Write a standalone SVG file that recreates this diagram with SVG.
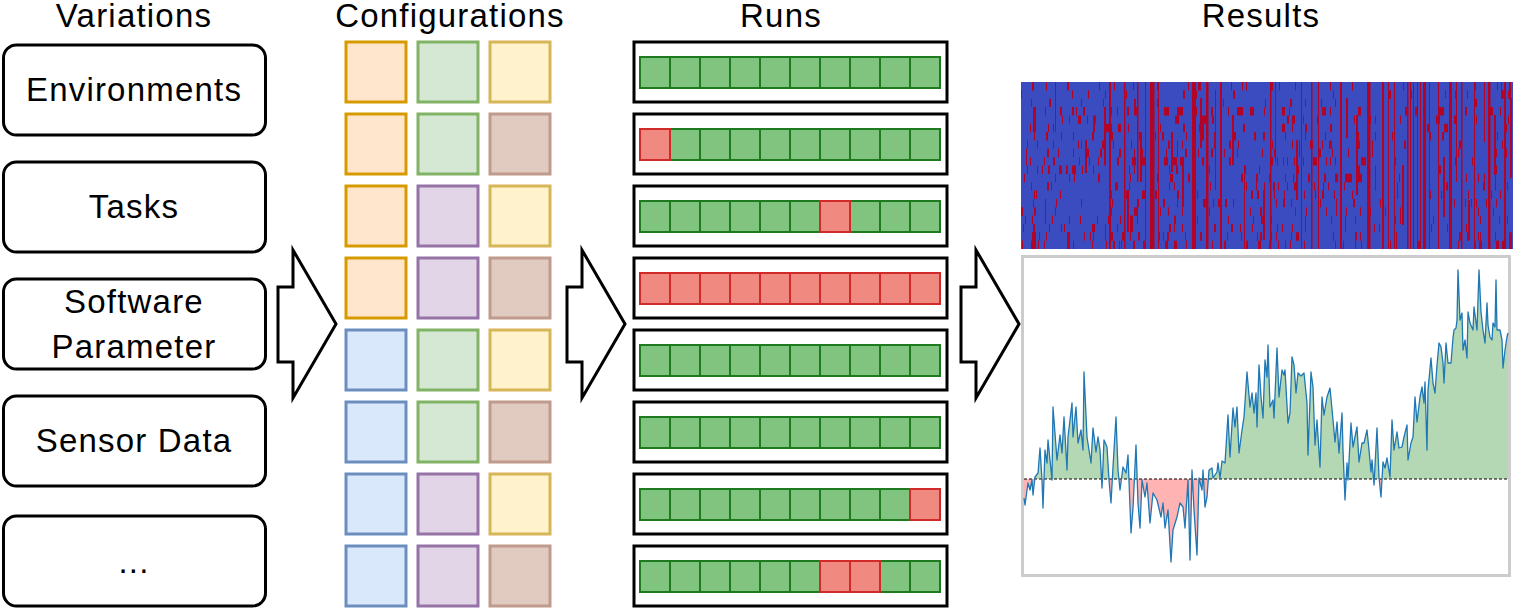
<svg xmlns="http://www.w3.org/2000/svg" width="1517" height="609" viewBox="0 0 1517 609">
<style>
text{font-family:"Liberation Sans",Arial,sans-serif;font-size:33px;letter-spacing:1.2px;fill:#000;text-anchor:middle}
.var{fill:#fff;stroke:#000;stroke-width:3}
.sq{stroke-width:3}
.o{fill:#ffe6cc;stroke:#d79b00}
.g{fill:#d5e8d4;stroke:#82b366}
.y{fill:#fff2cc;stroke:#d6b656}
.b{fill:#e1cbc0;stroke:#c09a8c}
.p{fill:#e1d5e7;stroke:#9673a6}
.bl{fill:#dae8fc;stroke:#6c8ebf}
.run{fill:#fff;stroke:#000;stroke-width:3}
.cg{fill:#80c480;stroke:#1e7a1e;stroke-width:2}
.cr{fill:#f08a80;stroke:#d02a2a;stroke-width:2}
.arr{fill:#fff;stroke:#000;stroke-width:3;stroke-linejoin:miter}
.hm{fill:#b40426}
</style>
<defs>
<g id="cells">
<rect class="cg" x="640" y="0" width="30" height="31"/><rect class="cg" x="670" y="0" width="30" height="31"/><rect class="cg" x="700" y="0" width="30" height="31"/><rect class="cg" x="730" y="0" width="30" height="31"/><rect class="cg" x="760" y="0" width="30" height="31"/><rect class="cg" x="790" y="0" width="30" height="31"/><rect class="cg" x="820" y="0" width="30" height="31"/><rect class="cg" x="850" y="0" width="30" height="31"/><rect class="cg" x="880" y="0" width="30" height="31"/><rect class="cg" x="910" y="0" width="30" height="31"/>
</g>
<clipPath id="above"><rect x="1022" y="256" width="488" height="223"/></clipPath>
<clipPath id="below"><rect x="1022" y="479" width="488" height="97"/></clipPath>
<path id="area" d="M1024,479 L1024,498 1025,505 1028,483 1030,490 1032,480 1033,495 1035,477 1038,473 1040,448 1042,480 1043,508 1045,450 1047,463 1048,440 1052,480 1053,407 1057,460 1060,435 1062,453 1064,417 1067,470 1068,437 1072,403 1073,437 1076,407 1078,443 1081,430 1083,450 1084,372 1087,437 1091,463 1093,428 1096,452 1098,437 1100,450 1102,488 1104,440 1107,447 1109,480 1111,503 1113,467 1116,417 1118,470 1120,490 1123,467 1126,473 1128,455 1131,533 1133,508 1136,445 1138,503 1140,528 1142,480 1145,497 1147,483 1150,523 1153,493 1157,500 1161,517 1163,503 1165,528 1168,510 1171,562 1173,530 1177,517 1180,503 1183,507 1185,528 1188,480 1190,560 1192,470 1194,510 1197,555 1199,478 1202,490 1203,470 1205,507 1207,497 1209,470 1212,468 1213,478 1217,472 1218,463 1220,478 1222,461 1225,463 1228,415 1230,457 1233,408 1235,427 1237,407 1239,453 1242,430 1244,417 1247,372 1250,407 1252,393 1254,413 1256,393 1257,427 1259,365 1261,397 1263,418 1265,360 1267,377 1268,345 1270,407 1273,400 1274,418 1277,348 1279,397 1282,370 1284,375 1285,370 1288,423 1290,413 1292,357 1294,365 1296,393 1298,373 1301,376 1304,373 1307,403 1308,455 1311,372 1313,387 1315,445 1317,420 1320,467 1322,397 1324,415 1327,397 1330,388 1333,420 1335,442 1337,422 1339,453 1342,413 1343,450 1345,500 1347,463 1348,480 1351,423 1353,447 1357,427 1359,462 1362,443 1364,443 1367,430 1369,450 1371,472 1372,460 1374,485 1377,428 1379,477 1381,497 1383,462 1385,468 1387,458 1390,477 1392,420 1394,450 1397,432 1399,448 1402,447 1404,437 1407,425 1408,460 1411,443 1413,437 1415,397 1417,422 1420,397 1422,387 1424,403 1425,382 1427,450 1428,390 1431,358 1433,383 1435,393 1437,365 1439,343 1441,347 1443,363 1444,383 1446,343 1448,363 1451,363 1453,338 1454,330 1456,328 1457,320 1458,270 1460,320 1462,313 1463,350 1465,340 1467,358 1468,312 1470,323 1473,330 1474,307 1477,330 1479,270 1481,312 1483,330 1485,343 1487,303 1488,325 1490,337 1492,340 1493,323 1495,327 1496,280 1497,330 1500,330 1502,340 1503,368 1505,350 1507,337 1508,333 L1508,479 Z"/>
</defs>

<g id="titles">
<text x="134" y="27">Variations</text>
<text x="450" y="27">Configurations</text>
<text x="781" y="27">Runs</text>
<text x="1261" y="27">Results</text>
</g>

<g id="var-environments"><rect class="var" x="3.5" y="45" width="262" height="90" rx="13"/><text x="134" y="101">Environments</text></g>
<g id="var-tasks"><rect class="var" x="3.5" y="162" width="262" height="90" rx="13"/><text x="134" y="218">Tasks</text></g>
<g id="var-software"><rect class="var" x="3.5" y="279" width="262" height="90" rx="13"/><text x="134" y="313">Software</text><text x="134" y="358">Parameter</text></g>
<g id="var-sensor"><rect class="var" x="3.5" y="396" width="262" height="90" rx="13"/><text x="134" y="452">Sensor Data</text></g>
<g id="var-more"><rect class="var" x="3.5" y="516" width="262" height="90" rx="13"/><text x="134" y="573">...</text></g>

<g id="configurations">
<rect class="sq o" x="346" y="42" width="60" height="60"/><rect class="sq g" x="418" y="42" width="60" height="60"/><rect class="sq y" x="490" y="42" width="60" height="60"/>
<rect class="sq o" x="346" y="114" width="60" height="60"/><rect class="sq g" x="418" y="114" width="60" height="60"/><rect class="sq b" x="490" y="114" width="60" height="60"/>
<rect class="sq o" x="346" y="186" width="60" height="60"/><rect class="sq p" x="418" y="186" width="60" height="60"/><rect class="sq y" x="490" y="186" width="60" height="60"/>
<rect class="sq o" x="346" y="258" width="60" height="60"/><rect class="sq p" x="418" y="258" width="60" height="60"/><rect class="sq b" x="490" y="258" width="60" height="60"/>
<rect class="sq bl" x="346" y="330" width="60" height="60"/><rect class="sq g" x="418" y="330" width="60" height="60"/><rect class="sq y" x="490" y="330" width="60" height="60"/>
<rect class="sq bl" x="346" y="402" width="60" height="60"/><rect class="sq g" x="418" y="402" width="60" height="60"/><rect class="sq b" x="490" y="402" width="60" height="60"/>
<rect class="sq bl" x="346" y="474" width="60" height="60"/><rect class="sq p" x="418" y="474" width="60" height="60"/><rect class="sq y" x="490" y="474" width="60" height="60"/>
<rect class="sq bl" x="346" y="546" width="60" height="60"/><rect class="sq p" x="418" y="546" width="60" height="60"/><rect class="sq b" x="490" y="546" width="60" height="60"/>
</g>

<g id="runs">
<g id="run1"><rect class="run" x="634" y="42" width="313" height="60"/><use href="#cells" y="57"/></g>
<g id="run2"><rect class="run" x="634" y="114" width="313" height="60"/><use href="#cells" y="129"/><rect class="cr" x="640" y="129" width="30" height="31"/></g>
<g id="run3"><rect class="run" x="634" y="186" width="313" height="60"/><use href="#cells" y="201"/><rect class="cr" x="820" y="201" width="30" height="31"/></g>
<g id="run4"><rect class="run" x="634" y="258" width="313" height="60"/>
<rect class="cr" x="640" y="273" width="30" height="31"/><rect class="cr" x="670" y="273" width="30" height="31"/><rect class="cr" x="700" y="273" width="30" height="31"/><rect class="cr" x="730" y="273" width="30" height="31"/><rect class="cr" x="760" y="273" width="30" height="31"/><rect class="cr" x="790" y="273" width="30" height="31"/><rect class="cr" x="820" y="273" width="30" height="31"/><rect class="cr" x="850" y="273" width="30" height="31"/><rect class="cr" x="880" y="273" width="30" height="31"/><rect class="cr" x="910" y="273" width="30" height="31"/></g>
<g id="run5"><rect class="run" x="634" y="330" width="313" height="60"/><use href="#cells" y="345"/></g>
<g id="run6"><rect class="run" x="634" y="402" width="313" height="60"/><use href="#cells" y="417"/></g>
<g id="run7"><rect class="run" x="634" y="474" width="313" height="60"/><use href="#cells" y="489"/><rect class="cr" x="910" y="489" width="30" height="31"/></g>
<g id="run8"><rect class="run" x="634" y="546" width="313" height="60"/><use href="#cells" y="561"/><rect class="cr" x="820" y="561" width="30" height="31"/><rect class="cr" x="850" y="561" width="30" height="31"/></g>
</g>

<g id="connectors">
<polygon class="arr" points="278,287 293,287 293,250 336,324 293,398 293,362 278,362"/>
<polygon class="arr" points="567,287 582,287 582,250 625,324 582,398 582,362 567,362"/>
<polygon class="arr" points="961,287 976,287 976,250 1019,324 976,398 976,362 961,362"/>
</g>

<g id="heatmap">
<rect x="1021" y="82" width="492" height="167" fill="#3b4cc0"/>
<path class="hm" d="M1109 82h2v167h-2zM1124 82h1.5v167h-1.5zM1145 82h1v167h-1zM1150 82h4.5v167h-4.5zM1158 82h1v167h-1zM1192 82h4v167h-4zM1206 82h2.5v167h-2.5zM1220 82h2v167h-2zM1270 82h1.5v167h-1.5zM1301 82h1v167h-1zM1311 82h1.5v167h-1.5zM1318 82h1v167h-1zM1340 82h2v167h-2zM1367 82h3.5v167h-3.5zM1382 82h2v167h-2zM1388 82h1v167h-1zM1394 82h1v167h-1zM1407 82h1.5v167h-1.5zM1410 82h1v167h-1zM1413 82h1v167h-1zM1417 82h1v167h-1zM1420 82h1v167h-1zM1423 82h3v167h-3zM1429 82h1v167h-1zM1438 82h1v167h-1zM1449 82h3v167h-3zM1461 82h1.5v167h-1.5zM1474 82h1v167h-1zM1488 82h2.5v167h-2.5zM1504 82h2v167h-2z"/>
<path class="hm" d="M1033 107h3v25h-3zM1033 232h3v17h-3zM1067 232h3v17h-3zM1055 82h1v50h-1zM1085 140h2v33h-2zM1104 107h2v58h-2zM1137 82h1.5v100h-1.5zM1140 132h2v50h-2zM1171 132h2v40h-2zM1182 157h2v50h-2zM1215 90h1v100h-1zM1232 115h2v50h-2zM1244 165h1v84h-1zM1275 82h1v80h-1zM1296 140h2v60h-2zM1356 115h2v80h-2zM1443 157h2v60h-2zM1456 82h1v100h-1zM1484 82h1v60h-1zM1494 115h2v60h-2zM1510 98h2v80h-2zM1127 190h2v42h-2zM1200 98h2v50h-2zM1263 190h2v50h-2zM1346 98h2v40h-2zM1402 165h2v60h-2zM1468 200h2v40h-2z"/>
<path class="hm" transform="translate(0,82)" d="M1032 0h2v8.4h-2zM1046 0h1v8.4h-1zM1067 0h2v8.4h-2zM1099 0h1v8.4h-1zM1114 0h1v8.4h-1zM1133 0h1v8.4h-1zM1157 0h1v8.4h-1zM1188 0h1v8.4h-1zM1198 0h3v8.4h-3zM1231 0h1v8.4h-1zM1242 0h1v8.4h-1zM1246 0h1v8.4h-1zM1271 0h2v8.4h-2zM1279 0h1v8.4h-1zM1295 0h1v8.4h-1zM1330 0h1v8.4h-1zM1352 0h1v8.4h-1zM1403 0h1v8.4h-1zM1410 0h1v8.4h-1zM1475 0h1v8.4h-1zM1497 0h1v8.4h-1zM1501 0h1v8.4h-1zM1509 0h2v8.4h-2z"/>
<path class="hm" transform="translate(0,90.35)" d="M1021 0h1v8.4h-1zM1072 0h1v8.4h-1zM1088 0h1v8.4h-1zM1105 0h1v8.4h-1zM1126 0h1v8.4h-1zM1183 0h2v8.4h-2zM1196 0h1v8.4h-1zM1233 0h2v8.4h-2zM1333 0h1v8.4h-1zM1389 0h2v8.4h-2zM1410 0h2v8.4h-2zM1445 0h1v8.4h-1zM1455 0h1v8.4h-1zM1467 0h1v8.4h-1zM1501 0h3v8.4h-3zM1508 0h3v8.4h-3z"/>
<path class="hm" transform="translate(0,98.7)" d="M1031 0h1v8.4h-1zM1049 0h2v8.4h-2zM1081 0h1v8.4h-1zM1103 0h1v8.4h-1zM1134 0h2v8.4h-2zM1157 0h1v8.4h-1zM1193 0h3v8.4h-3zM1223 0h1v8.4h-1zM1265 0h1v8.4h-1zM1290 0h2v8.4h-2zM1305 0h1v8.4h-1zM1321 0h1v8.4h-1zM1335 0h1v8.4h-1zM1475 0h2v8.4h-2z"/>
<path class="hm" transform="translate(0,107.05)" d="M1033 0h3v8.4h-3zM1045 0h1v8.4h-1zM1060 0h2v8.4h-2zM1072 0h2v8.4h-2zM1076 0h1v8.4h-1zM1083 0h2v8.4h-2zM1110 0h2v8.4h-2zM1117 0h1v8.4h-1zM1127 0h2v8.4h-2zM1134 0h4v8.4h-4zM1164 0h5v8.4h-5zM1177 0h6v8.4h-6zM1193 0h4v8.4h-4zM1211 0h2v8.4h-2zM1228 0h1v8.4h-1zM1237 0h6v8.4h-6zM1250 0h4v8.4h-4zM1264 0h1v8.4h-1zM1282 0h3v8.4h-3zM1289 0h1v8.4h-1zM1322 0h4v8.4h-4zM1330 0h1v8.4h-1zM1346 0h1v8.4h-1zM1358 0h3v8.4h-3zM1405 0h2v8.4h-2zM1415 0h2v8.4h-2zM1439 0h5v8.4h-5zM1465 0h2v8.4h-2zM1490 0h3v8.4h-3zM1500 0h1v8.4h-1z"/>
<path class="hm" transform="translate(0,115.4)" d="M1033 0h2v8.4h-2zM1062 0h1v8.4h-1zM1069 0h1v8.4h-1zM1078 0h3v8.4h-3zM1087 0h1v8.4h-1zM1093 0h3v8.4h-3zM1175 0h4v8.4h-4zM1201 0h5v8.4h-5zM1212 0h2v8.4h-2zM1287 0h2v8.4h-2zM1292 0h3v8.4h-3zM1303 0h1v8.4h-1zM1317 0h2v8.4h-2zM1354 0h1v8.4h-1zM1370 0h1v8.4h-1zM1375 0h1v8.4h-1zM1400 0h1v8.4h-1zM1436 0h4v8.4h-4zM1454 0h2v8.4h-2zM1476 0h1v8.4h-1zM1508 0h1v8.4h-1z"/>
<path class="hm" transform="translate(0,123.75)" d="M1030 0h1v8.4h-1zM1048 0h1v8.4h-1zM1053 0h1v8.4h-1zM1093 0h2v8.4h-2zM1104 0h8v8.4h-8zM1118 0h3v8.4h-3zM1128 0h1v8.4h-1zM1160 0h1v8.4h-1zM1183 0h2v8.4h-2zM1199 0h5v8.4h-5zM1243 0h2v8.4h-2zM1282 0h3v8.4h-3zM1292 0h1v8.4h-1zM1305 0h2v8.4h-2zM1330 0h2v8.4h-2zM1394 0h1v8.4h-1zM1427 0h3v8.4h-3zM1444 0h4v8.4h-4zM1505 0h2v8.4h-2z"/>
<path class="hm" transform="translate(0,132.1)" d="M1034 0h1v8.4h-1zM1046 0h2v8.4h-2zM1061 0h1v8.4h-1zM1073 0h1v8.4h-1zM1092 0h2v8.4h-2zM1111 0h2v8.4h-2zM1139 0h1v8.4h-1zM1155 0h1v8.4h-1zM1162 0h2v8.4h-2zM1186 0h1v8.4h-1zM1201 0h3v8.4h-3zM1214 0h2v8.4h-2zM1234 0h2v8.4h-2zM1254 0h2v8.4h-2zM1263 0h2v8.4h-2zM1285 0h1v8.4h-1zM1305 0h1v8.4h-1zM1325 0h1v8.4h-1zM1357 0h2v8.4h-2zM1375 0h1v8.4h-1zM1392 0h1v8.4h-1zM1429 0h2v8.4h-2zM1442 0h2v8.4h-2zM1497 0h1v8.4h-1z"/>
<path class="hm" transform="translate(0,140.45)" d="M1027 0h1v8.4h-1zM1037 0h1v8.4h-1zM1053 0h1v8.4h-1zM1078 0h1v8.4h-1zM1081 0h1v8.4h-1zM1102 0h2v8.4h-2zM1113 0h1v8.4h-1zM1131 0h1v8.4h-1zM1168 0h2v8.4h-2zM1177 0h1v8.4h-1zM1182 0h1v8.4h-1zM1214 0h2v8.4h-2zM1229 0h2v8.4h-2zM1238 0h1v8.4h-1zM1272 0h1v8.4h-1zM1292 0h1v8.4h-1zM1299 0h1v8.4h-1zM1310 0h3v8.4h-3zM1322 0h1v8.4h-1zM1329 0h3v8.4h-3zM1358 0h2v8.4h-2zM1372 0h1v8.4h-1zM1404 0h2v8.4h-2zM1459 0h2v8.4h-2zM1502 0h1v8.4h-1z"/>
<path class="hm" transform="translate(0,148.8)" d="M1026 0h1v8.4h-1zM1047 0h2v8.4h-2zM1058 0h1v8.4h-1zM1073 0h1v8.4h-1zM1087 0h2v8.4h-2zM1100 0h2v8.4h-2zM1119 0h2v8.4h-2zM1134 0h1v8.4h-1zM1142 0h1v8.4h-1zM1166 0h1v8.4h-1zM1177 0h1v8.4h-1zM1185 0h2v8.4h-2zM1198 0h1v8.4h-1zM1211 0h2v8.4h-2zM1224 0h1v8.4h-1zM1237 0h1v8.4h-1zM1262 0h1v8.4h-1zM1274 0h1v8.4h-1zM1299 0h1v8.4h-1zM1319 0h2v8.4h-2zM1332 0h1v8.4h-1zM1348 0h1v8.4h-1zM1372 0h1v8.4h-1zM1458 0h1v8.4h-1zM1496 0h1v8.4h-1zM1505 0h2v8.4h-2z"/>
<path class="hm" transform="translate(0,157.15)" d="M1026 0h1v8.4h-1zM1030 0h1v8.4h-1zM1044 0h1v8.4h-1zM1053 0h2v8.4h-2zM1079 0h1v8.4h-1zM1089 0h1v8.4h-1zM1098 0h1v8.4h-1zM1104 0h2v8.4h-2zM1117 0h2v8.4h-2zM1132 0h4v8.4h-4zM1140 0h6v8.4h-6zM1164 0h4v8.4h-4zM1172 0h5v8.4h-5zM1180 0h2v8.4h-2zM1202 0h2v8.4h-2zM1215 0h1v8.4h-1zM1229 0h2v8.4h-2zM1271 0h2v8.4h-2zM1277 0h1v8.4h-1zM1283 0h1v8.4h-1zM1287 0h1v8.4h-1zM1294 0h1v8.4h-1zM1303 0h1v8.4h-1zM1313 0h4v8.4h-4zM1326 0h1v8.4h-1zM1330 0h1v8.4h-1zM1335 0h1v8.4h-1zM1357 0h1v8.4h-1zM1361 0h5v8.4h-5zM1395 0h1v8.4h-1zM1455 0h1v8.4h-1zM1472 0h1v8.4h-1zM1494 0h1v8.4h-1z"/>
<path class="hm" transform="translate(0,165.5)" d="M1027 0h1v8.4h-1zM1037 0h1v8.4h-1zM1042 0h1v8.4h-1zM1048 0h2v8.4h-2zM1059 0h3v8.4h-3zM1066 0h2v8.4h-2zM1072 0h4v8.4h-4zM1082 0h1v8.4h-1zM1093 0h1v8.4h-1zM1129 0h1v8.4h-1zM1134 0h1v8.4h-1zM1169 0h1v8.4h-1zM1176 0h2v8.4h-2zM1209 0h1v8.4h-1zM1245 0h1v8.4h-1zM1259 0h1v8.4h-1zM1298 0h1v8.4h-1zM1358 0h2v8.4h-2zM1375 0h1v8.4h-1zM1439 0h2v8.4h-2zM1496 0h1v8.4h-1z"/>
<path class="hm" transform="translate(0,173.85)" d="M1024 0h1v8.4h-1zM1055 0h1v8.4h-1zM1069 0h1v8.4h-1zM1074 0h1v8.4h-1zM1098 0h2v8.4h-2zM1130 0h1v8.4h-1zM1157 0h1v8.4h-1zM1170 0h3v8.4h-3zM1188 0h2v8.4h-2zM1241 0h2v8.4h-2zM1256 0h2v8.4h-2zM1269 0h2v8.4h-2zM1285 0h1v8.4h-1zM1293 0h1v8.4h-1zM1308 0h2v8.4h-2zM1324 0h2v8.4h-2zM1335 0h3v8.4h-3zM1345 0h7v8.4h-7zM1358 0h4v8.4h-4zM1375 0h1v8.4h-1zM1399 0h1v8.4h-1zM1466 0h1v8.4h-1zM1478 0h1v8.4h-1zM1484 0h1v8.4h-1zM1495 0h1v8.4h-1z"/>
<path class="hm" transform="translate(0,182.2)" d="M1031 0h1v8.4h-1zM1047 0h2v8.4h-2zM1051 0h1v8.4h-1zM1115 0h3v8.4h-3zM1129 0h1v8.4h-1zM1169 0h1v8.4h-1zM1174 0h1v8.4h-1zM1210 0h1v8.4h-1zM1246 0h1v8.4h-1zM1256 0h1v8.4h-1zM1264 0h1v8.4h-1zM1273 0h2v8.4h-2zM1278 0h1v8.4h-1zM1287 0h1v8.4h-1zM1294 0h3v8.4h-3zM1301 0h1v8.4h-1zM1314 0h1v8.4h-1zM1323 0h1v8.4h-1zM1328 0h1v8.4h-1zM1344 0h1v8.4h-1zM1375 0h1v8.4h-1zM1397 0h1v8.4h-1zM1446 0h2v8.4h-2zM1483 0h2v8.4h-2zM1495 0h1v8.4h-1zM1507 0h1v8.4h-1z"/>
<path class="hm" transform="translate(0,190.55)" d="M1034 0h1v8.4h-1zM1036 0h1v8.4h-1zM1060 0h1v8.4h-1zM1111 0h1v8.4h-1zM1126 0h1v8.4h-1zM1142 0h3v8.4h-3zM1155 0h2v8.4h-2zM1177 0h2v8.4h-2zM1197 0h1v8.4h-1zM1251 0h2v8.4h-2zM1257 0h2v8.4h-2zM1274 0h1v8.4h-1zM1284 0h1v8.4h-1zM1304 0h1v8.4h-1zM1315 0h1v8.4h-1zM1322 0h2v8.4h-2zM1334 0h1v8.4h-1zM1352 0h1v8.4h-1zM1397 0h1v8.4h-1zM1429 0h2v8.4h-2zM1441 0h1v8.4h-1zM1468 0h1v8.4h-1zM1491 0h1v8.4h-1zM1500 0h1v8.4h-1z"/>
<path class="hm" transform="translate(0,198.9)" d="M1033 0h1v8.4h-1zM1045 0h1v8.4h-1zM1056 0h1v8.4h-1zM1081 0h1v8.4h-1zM1112 0h1v8.4h-1zM1137 0h2v8.4h-2zM1163 0h2v8.4h-2zM1177 0h1v8.4h-1zM1203 0h3v8.4h-3zM1213 0h1v8.4h-1zM1218 0h3v8.4h-3zM1225 0h2v8.4h-2zM1233 0h1v8.4h-1zM1263 0h1v8.4h-1zM1276 0h1v8.4h-1zM1283 0h2v8.4h-2zM1291 0h1v8.4h-1zM1320 0h1v8.4h-1zM1336 0h1v8.4h-1zM1353 0h2v8.4h-2zM1380 0h1v8.4h-1zM1403 0h1v8.4h-1zM1454 0h1v8.4h-1zM1465 0h1v8.4h-1zM1471 0h1v8.4h-1zM1476 0h1v8.4h-1zM1486 0h1v8.4h-1zM1496 0h1v8.4h-1z"/>
<path class="hm" transform="translate(0,207.25)" d="M1021 0h2v8.4h-2zM1034 0h2v8.4h-2zM1045 0h1v8.4h-1zM1055 0h1v8.4h-1zM1110 0h2v8.4h-2zM1134 0h4v8.4h-4zM1160 0h1v8.4h-1zM1168 0h1v8.4h-1zM1182 0h1v8.4h-1zM1209 0h1v8.4h-1zM1250 0h1v8.4h-1zM1260 0h2v8.4h-2zM1295 0h1v8.4h-1zM1306 0h1v8.4h-1zM1326 0h1v8.4h-1zM1336 0h1v8.4h-1zM1346 0h1v8.4h-1zM1360 0h1v8.4h-1zM1367 0h4v8.4h-4zM1385 0h1v8.4h-1zM1400 0h1v8.4h-1zM1478 0h1v8.4h-1zM1493 0h1v8.4h-1z"/>
<path class="hm" transform="translate(0,215.6)" d="M1025 0h1v8.4h-1zM1032 0h1v8.4h-1zM1045 0h1v8.4h-1zM1052 0h1v8.4h-1zM1069 0h1v8.4h-1zM1080 0h1v8.4h-1zM1097 0h1v8.4h-1zM1108 0h2v8.4h-2zM1120 0h1v8.4h-1zM1130 0h3v8.4h-3zM1137 0h1v8.4h-1zM1174 0h2v8.4h-2zM1197 0h1v8.4h-1zM1228 0h1v8.4h-1zM1253 0h1v8.4h-1zM1261 0h2v8.4h-2zM1271 0h1v8.4h-1zM1305 0h1v8.4h-1zM1331 0h1v8.4h-1zM1345 0h1v8.4h-1zM1355 0h1v8.4h-1zM1395 0h1v8.4h-1zM1400 0h1v8.4h-1zM1433 0h1v8.4h-1zM1480 0h1v8.4h-1zM1499 0h1v8.4h-1zM1507 0h1v8.4h-1z"/>
<path class="hm" transform="translate(0,223.95)" d="M1023 0h1v8.4h-1zM1033 0h2v8.4h-2zM1049 0h1v8.4h-1zM1061 0h1v8.4h-1zM1064 0h1v8.4h-1zM1092 0h3v8.4h-3zM1105 0h1v8.4h-1zM1117 0h1v8.4h-1zM1130 0h3v8.4h-3zM1169 0h2v8.4h-2zM1174 0h1v8.4h-1zM1182 0h1v8.4h-1zM1214 0h2v8.4h-2zM1231 0h2v8.4h-2zM1240 0h1v8.4h-1zM1252 0h1v8.4h-1zM1277 0h1v8.4h-1zM1282 0h1v8.4h-1zM1292 0h1v8.4h-1zM1305 0h1v8.4h-1zM1345 0h1v8.4h-1zM1374 0h1v8.4h-1zM1379 0h1v8.4h-1zM1431 0h1v8.4h-1zM1447 0h1v8.4h-1zM1466 0h1v8.4h-1z"/>
<path class="hm" transform="translate(0,232.3)" d="M1032 0h1v8.4h-1zM1039 0h1v8.4h-1zM1046 0h1v8.4h-1zM1067 0h2v8.4h-2zM1084 0h1v8.4h-1zM1090 0h1v8.4h-1zM1093 0h1v8.4h-1zM1105 0h1v8.4h-1zM1111 0h2v8.4h-2zM1122 0h2v8.4h-2zM1130 0h1v8.4h-1zM1138 0h2v8.4h-2zM1159 0h1v8.4h-1zM1163 0h1v8.4h-1zM1167 0h2v8.4h-2zM1185 0h1v8.4h-1zM1200 0h2v8.4h-2zM1227 0h1v8.4h-1zM1241 0h1v8.4h-1zM1257 0h1v8.4h-1zM1260 0h2v8.4h-2zM1271 0h1v8.4h-1zM1276 0h1v8.4h-1zM1291 0h1v8.4h-1zM1296 0h3v8.4h-3zM1333 0h1v8.4h-1zM1355 0h2v8.4h-2zM1360 0h1v8.4h-1zM1396 0h1v8.4h-1zM1459 0h3v8.4h-3zM1467 0h2v8.4h-2zM1478 0h1v8.4h-1zM1480 0h1v8.4h-1zM1495 0h1v8.4h-1zM1509 0h3v8.4h-3z"/>
<path class="hm" transform="translate(0,240.65)" d="M1022 0h1v8.35h-1zM1031 0h3v8.35h-3zM1038 0h1v8.35h-1zM1044 0h1v8.35h-1zM1073 0h1v8.35h-1zM1092 0h1v8.35h-1zM1106 0h1v8.35h-1zM1113 0h2v8.35h-2zM1119 0h1v8.35h-1zM1121 0h1v8.35h-1zM1133 0h2v8.35h-2zM1143 0h3v8.35h-3zM1165 0h3v8.35h-3zM1174 0h3v8.35h-3zM1186 0h1v8.35h-1zM1212 0h1v8.35h-1zM1224 0h2v8.35h-2zM1246 0h2v8.35h-2zM1258 0h3v8.35h-3zM1269 0h1v8.35h-1zM1278 0h1v8.35h-1zM1285 0h1v8.35h-1zM1290 0h1v8.35h-1zM1304 0h1v8.35h-1zM1335 0h1v8.35h-1zM1343 0h1v8.35h-1zM1355 0h1v8.35h-1zM1361 0h1v8.35h-1zM1390 0h1v8.35h-1zM1396 0h1v8.35h-1zM1418 0h3v8.35h-3zM1458 0h1v8.35h-1zM1475 0h1v8.35h-1zM1479 0h3v8.35h-3zM1496 0h3v8.35h-3zM1502 0h3v8.35h-3zM1509 0h3v8.35h-3z"/>
</g>

<g id="chart">
<rect x="1022.5" y="256.5" width="487" height="319" fill="#fff" stroke="#cccccc" stroke-width="3"/>
<use href="#area" fill="#b3d8b3" clip-path="url(#above)"/>
<use href="#area" fill="#ffb3b3" clip-path="url(#below)"/>
<line x1="1024" y1="479" x2="1508" y2="479" stroke="#000" stroke-width="1" stroke-dasharray="3,2"/>
<polyline fill="none" stroke="#1f77b4" stroke-width="1.3" stroke-linejoin="round" points="1024,498 1025,505 1028,483 1030,490 1032,480 1033,495 1035,477 1038,473 1040,448 1042,480 1043,508 1045,450 1047,463 1048,440 1052,480 1053,407 1057,460 1060,435 1062,453 1064,417 1067,470 1068,437 1072,403 1073,437 1076,407 1078,443 1081,430 1083,450 1084,372 1087,437 1091,463 1093,428 1096,452 1098,437 1100,450 1102,488 1104,440 1107,447 1109,480 1111,503 1113,467 1116,417 1118,470 1120,490 1123,467 1126,473 1128,455 1131,533 1133,508 1136,445 1138,503 1140,528 1142,480 1145,497 1147,483 1150,523 1153,493 1157,500 1161,517 1163,503 1165,528 1168,510 1171,562 1173,530 1177,517 1180,503 1183,507 1185,528 1188,480 1190,560 1192,470 1194,510 1197,555 1199,478 1202,490 1203,470 1205,507 1207,497 1209,470 1212,468 1213,478 1217,472 1218,463 1220,478 1222,461 1225,463 1228,415 1230,457 1233,408 1235,427 1237,407 1239,453 1242,430 1244,417 1247,372 1250,407 1252,393 1254,413 1256,393 1257,427 1259,365 1261,397 1263,418 1265,360 1267,377 1268,345 1270,407 1273,400 1274,418 1277,348 1279,397 1282,370 1284,375 1285,370 1288,423 1290,413 1292,357 1294,365 1296,393 1298,373 1301,376 1304,373 1307,403 1308,455 1311,372 1313,387 1315,445 1317,420 1320,467 1322,397 1324,415 1327,397 1330,388 1333,420 1335,442 1337,422 1339,453 1342,413 1343,450 1345,500 1347,463 1348,480 1351,423 1353,447 1357,427 1359,462 1362,443 1364,443 1367,430 1369,450 1371,472 1372,460 1374,485 1377,428 1379,477 1381,497 1383,462 1385,468 1387,458 1390,477 1392,420 1394,450 1397,432 1399,448 1402,447 1404,437 1407,425 1408,460 1411,443 1413,437 1415,397 1417,422 1420,397 1422,387 1424,403 1425,382 1427,450 1428,390 1431,358 1433,383 1435,393 1437,365 1439,343 1441,347 1443,363 1444,383 1446,343 1448,363 1451,363 1453,338 1454,330 1456,328 1457,320 1458,270 1460,320 1462,313 1463,350 1465,340 1467,358 1468,312 1470,323 1473,330 1474,307 1477,330 1479,270 1481,312 1483,330 1485,343 1487,303 1488,325 1490,337 1492,340 1493,323 1495,327 1496,280 1497,330 1500,330 1502,340 1503,368 1505,350 1507,337 1508,333"/>
</g>
</svg>
